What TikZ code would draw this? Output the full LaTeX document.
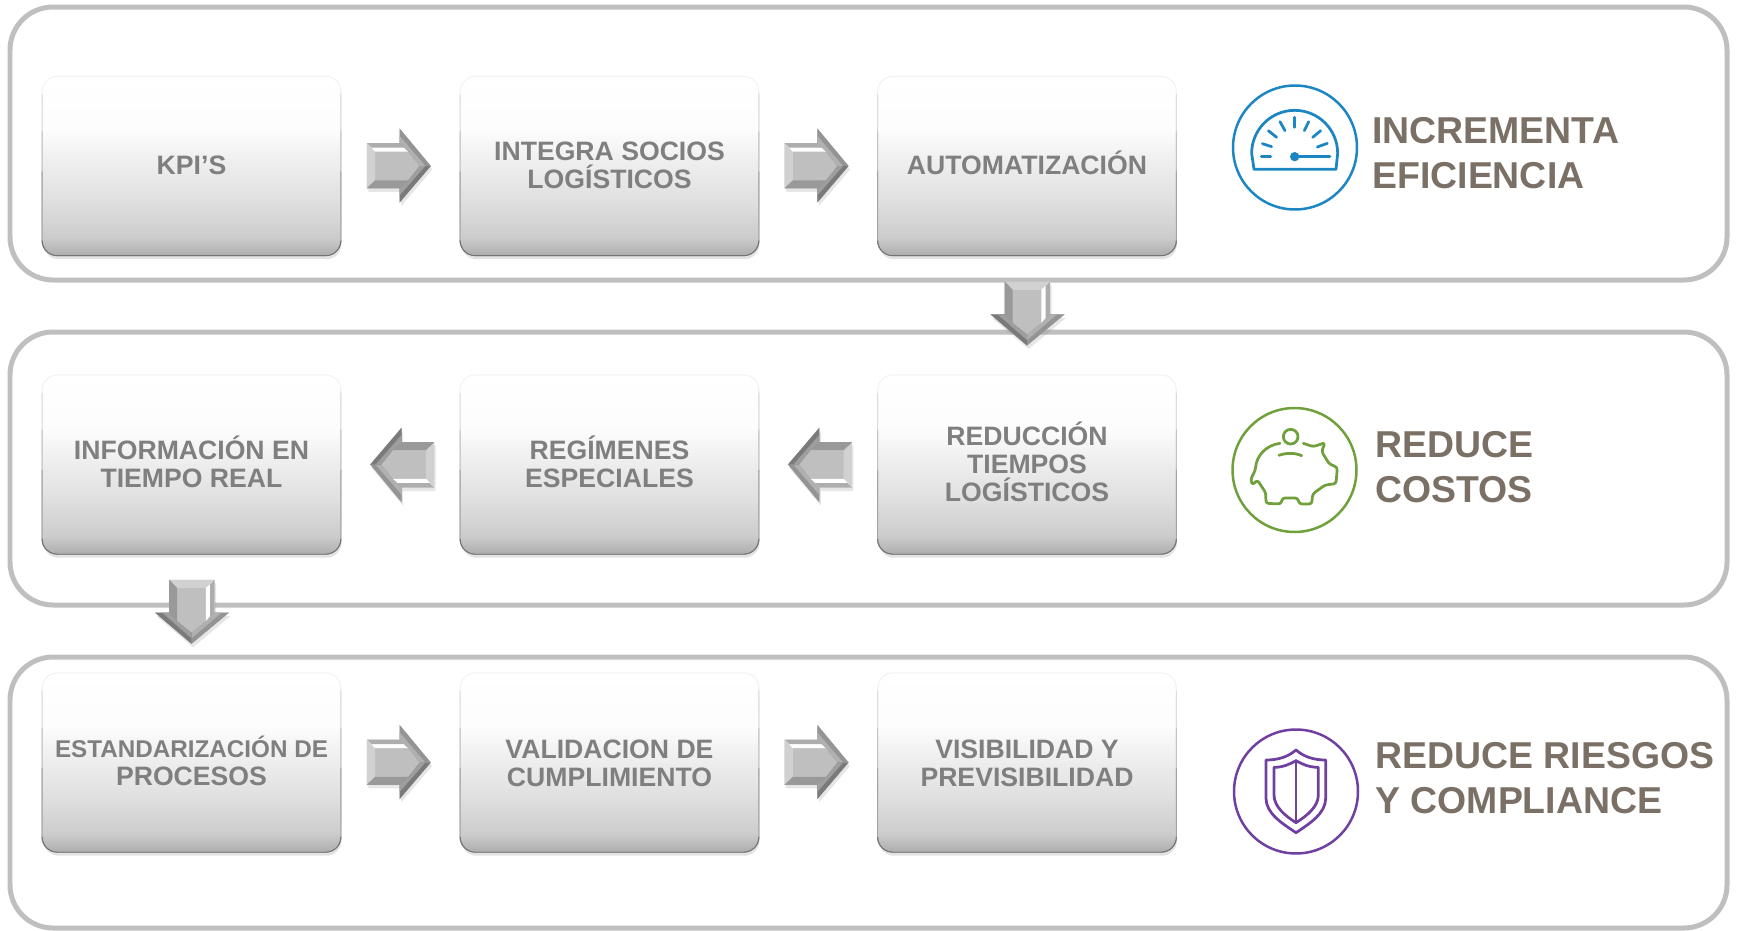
\documentclass[tikz,border=0pt]{standalone}
\usepackage{fontspec}
\setmainfont{Liberation Sans}
\usetikzlibrary{calc,shadows}

\definecolor{framegray}{HTML}{BFBFBF}
\definecolor{boxtext}{HTML}{7F7F7F}
\definecolor{sidetext}{HTML}{7B7065}
\definecolor{gaugeblue}{HTML}{1C86C2}
\definecolor{piggreen}{HTML}{6FA03C}
\definecolor{shieldpurple}{HTML}{7040A0}

\pgfdeclareverticalshading{boxshade}{100bp}{color(0bp)=(black!32); color(25bp)=(black!32); color(30bp)=(black!20); color(40bp)=(black!12.5); color(52bp)=(black!6); color(60bp)=(black!1); color(75bp)=(white); color(100bp)=(white)}

\tikzset{
    framebox/.style={draw=framegray, line width=0.1cm, rounded corners=0.86cm},
    procbox/.style={shade, shading=boxshade, rounded corners=0.3cm, minimum width=5.96cm, minimum height=3.57cm, inner sep=0pt, drop shadow={shadow xshift=0.02cm, shadow yshift=-0.08cm, opacity=0.22}},
    boxlabel/.style={inner sep=0pt, align=center, text=boxtext, font=\fontsize{15.15}{16}\selectfont\bfseries},
    boxedge/.style={line width=0.6pt, rounded corners=0.3cm},
    sidelabel/.style={anchor=west, inner sep=0pt, align=left, text=sidetext, font=\fontsize{21.3}{25.7}\selectfont\bfseries},
    iconring/.style={circle, minimum size=2.48cm, inner sep=0pt, line width=0.05cm},
    iconline/.style={line width=0.055cm, line join=round, line cap=round},
    blockarrow/.pic={
        \fill[black!25, drop shadow={shadow xshift=0.03cm, shadow yshift=-0.07cm, opacity=0.2}] (-33.7,-23) -- (-1,-23) -- (-1,-37.7) -- (30.3,0) -- (-1,36.7) -- (-1,22.3) -- (-33.7,22.3) -- cycle;
        \fill[black!18] (-33.7,-23) -- (-25.4,-14.3) -- (-25.4,14.3) -- (-33.7,22.3) -- cycle;
        \fill[white] (-33.7,-23) -- (-1,-23) -- (8,-14.3) -- (-25.4,-14.3) -- cycle;
        \fill[black!32] (-33.7,-23) -- (-1,-23) -- (3.5,-18.5) -- (-29.2,-18.5) -- cycle;
        \fill[black!42] (-1,-37.7) -- (30.3,0) -- (19.3,0) -- (8,-14.3) -- (-1,-23) -- cycle;
        \fill[black!31] (-1,-30.3) -- (24.8,0) -- (19.3,0) -- (8,-14.3) -- (-1,-23) -- cycle;
        \fill[black!52] (-1,36.7) -- (-1,22.3) -- (8,14.3) -- (19.3,0) -- (30.3,0) -- cycle;
        \fill[black!38] (-1,29.5) -- (24.8,0) -- (19.3,0) -- (8,14.3) -- (-1,22.3) -- cycle;
        \fill[black!40] (-33.7,22.3) -- (-1,22.3) -- (8,14.3) -- (-25.4,14.3) -- cycle;
    }
}

\begin{document}
\begin{tikzpicture}[x=0.02cm, y=-0.02cm]
        \useasboundingbox (0,0) rectangle (1738,930);
        \foreach \ytop/\ybot in {7/280, 332/605, 657/928} {
            \draw[framebox] (10,\ytop) rectangle (1727,\ybot);
        }
        \foreach \name/\x/\y/\dy/\labeltext in {kpi/191.5/166/-0.5/KPI’S, integra/609.5/166/-0.5/INTEGRA SOCIOS\\LOGÍSTICOS, autom/1027/166/-3.5/AUTOMATIZACIÓN, info/191.5/464.5/-3/INFORMACIÓN EN\\TIEMPO REAL, regim/609.5/464.5/-3/REGÍMENES\\ESPECIALES, reduc/1027/464.5/-3/REDUCCIÓN\\TIEMPOS\\LOGÍSTICOS, estand/191.5/762.5/-2/\fontsize{13.8}{15.6}\selectfont ESTANDARIZACIÓN DE\\PROCESOS, valid/609.5/762.5/1/VALIDACION DE\\CUMPLIMIENTO, visib/1027/762.5/1/VISIBILIDAD Y\\PREVISIBILIDAD} {
            \node (\name) [procbox] at (\x,\y) {};
            \draw[boxedge, draw=black!5] (\name.north west) rectangle (\name.south east);
            \foreach \drop/\edgeshade in {18/14, 55/24, 95/36} {
                \draw[boxedge, draw=black!\edgeshade] ($(\name.north west)+(0,\drop)$) -- (\name.south west) -- (\name.south east) -- ($(\name.north east)+(0,\drop)$);
            }
            \draw[boxedge, draw=black!55] ($(\name.south west)+(0,-14)$) -- (\name.south west) -- (\name.south east) -- ($(\name.south east)+(0,-14)$);
            \node (\name-text) [boxlabel] at ($(\name)+(0,\dy)$) {\labeltext};
        }
        \foreach \src/\dst/\rot in {kpi/integra/0, integra/autom/0, autom/reduc/-90, reduc/regim/180, regim/info/180, info/estand/-90, estand/valid/0, valid/visib/0} {
            \pic[rotate=\rot] at ($(\src)!.5!(\dst)$) {blockarrow};
        }

        \node (gaugering) [iconring, draw=gaugeblue] at (1295,147.5) {};
        \node (pigring) [iconring, draw=piggreen] at (1294.5,470) {};
        \node (shieldring) [iconring, draw=shieldpurple] at (1296,791.5) {};

        \node (eficiencia) [sidelabel] at (1372,153) {INCREMENTA\\EFICIENCIA};
        \node (costos) [sidelabel] at (1375,467) {REDUCE\\COSTOS};
        \node (riesgos) [sidelabel] at (1375,778) {REDUCE RIESGOS\\Y COMPLIANCE};

        \begin{scope}[shift={(1200,60)}, scale=1/3, iconline, draw=gaugeblue]
            \draw (162,328) -- (155,280) arc[start angle=180, end angle=360, radius=129] -- (408,328) -- cycle;
            \foreach \xa/\ya/\xb/\yb in {184/290/212/290, 187/251/215/260, 205/212/230/232, 240/185/255/212, 284/172/284/202, 326/185/313/212, 362/212/338/232, 382/250/352/261} {
                \draw (\xa,\ya) -- (\xb,\yb);
            }
            \draw (284,290) -- (390,290);
            \fill[gaugeblue] (284,290) circle (14);
        \end{scope}

        \begin{scope}[shift={(1200,390)}, scale=1/3, iconline, draw=piggreen]
            \draw (272,140) circle (22);
            \draw (237,196) .. controls (258,188) and (285,188) .. (305,197);
            \draw[rounded corners=1.5pt] (240,160) .. controls (200,165) and (170,195) .. (166,240) -- (152,268) -- (157,285) -- (172,270) -- (197,308) -- (198,340) -- (243,342) -- (247,324) -- (293,324) -- (298,342) -- (335,342) -- (338,312) -- (375,285) -- (408,281) -- (412,232) -- (388,222) -- (365,185) -- (375,158) -- (340,170) -- (310,160);
        \end{scope}

        \begin{scope}[shift={(1200,710)}, scale=1/3, iconline, draw=shieldpurple]
            \draw (198,150) .. controls (235,150) and (265,140) .. (288,120) .. controls (311,140) and (341,150) .. (377,150) -- (377,265) .. controls (377,310) and (330,340) .. (288,368) .. controls (246,340) and (198,310) .. (198,265) -- cycle;
            \draw (222,172) .. controls (250,172) and (270,162) .. (288,152) .. controls (306,162) and (326,172) .. (355,172) -- (355,255) .. controls (355,290) and (320,318) .. (288,338) .. controls (256,318) and (222,290) .. (222,255) -- cycle;
            \draw (288,152) -- (288,338);
        \end{scope}
    \end{tikzpicture}
\end{document}
